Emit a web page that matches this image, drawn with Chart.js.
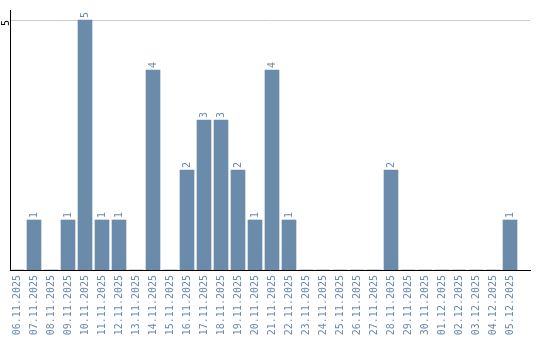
<!DOCTYPE html>
<html>
<head>
<meta charset="utf-8">
<script src="https://cdn.jsdelivr.net/npm/chart.js@4/dist/chart.umd.min.js"></script>
<style>
html,body{margin:0;padding:0;background:#fff;}
canvas{display:block;}
</style>
</head>
<body>
<canvas id="c" width="540" height="340"></canvas>
<script>
const categories = ["06.11.2025","07.11.2025","08.11.2025","09.11.2025","10.11.2025","11.11.2025","12.11.2025","13.11.2025","14.11.2025","15.11.2025","16.11.2025","17.11.2025","18.11.2025","19.11.2025","20.11.2025","21.11.2025","22.11.2025","23.11.2025","24.11.2025","25.11.2025","26.11.2025","27.11.2025","28.11.2025","29.11.2025","30.11.2025","01.12.2025","02.12.2025","03.12.2025","04.12.2025","05.12.2025"];
const counts = [0,1,0,1,5,1,1,0,4,0,2,3,3,2,1,4,1,0,0,0,0,0,2,0,0,0,0,0,0,1];
const yTickValues = [5];

const BAR = '#6b8baa';
const LABEL = '#6a8aad';
const FONT = '"DejaVu Sans Mono", "Liberation Mono", monospace';

const valueLabels = {
  id: 'valueLabels',
  afterDatasetsDraw(chart) {
    const ctx = chart.ctx;
    const meta = chart.getDatasetMeta(0);
    ctx.save();
    ctx.font = '10px ' + FONT;
    ctx.fillStyle = LABEL;
    ctx.textAlign = 'left';
    ctx.textBaseline = 'middle';
    meta.data.forEach((el, i) => {
      const v = counts[i];
      if (!v) return;
      ctx.save();
      ctx.translate(el.x, el.y - 2);
      ctx.rotate(-Math.PI / 2);
      ctx.fillText(String(v), 0, 0);
      ctx.restore();
    });
    ctx.restore();
  }
};

new Chart(document.getElementById('c'), {
  type: 'bar',
  data: {
    datasets: [{
      data: counts.map((v, i) => ({x: i, y: v})),
      backgroundColor: BAR,
      borderWidth: 0,
      barThickness: 14
    }]
  },
  options: {
    responsive: false,
    animation: false,
    devicePixelRatio: 1,
    layout: {padding: {top: 10, right: 10, left: 0, bottom: 0}},
    plugins: {legend: {display: false}, tooltip: {enabled: false}},
    scales: {
      x: {
        type: 'linear',
        offset: false,
        min: -7 / 17,
        max: 29 + 20 / 17,
        afterBuildTicks: s => { s.ticks = categories.map((_, i) => ({value: i})); },
        afterFit: s => { s.height = 70; },
        grid: {display: false, drawTicks: false, offset: false},
        border: {display: true, color: '#000', width: 1},
        ticks: {
          autoSkip: false,
          minRotation: 90,
          maxRotation: 90,
          padding: 5,
          color: LABEL,
          font: {family: FONT, size: 10},
          callback: v => categories[v] !== undefined ? categories[v] : ''
        }
      },
      y: {
        min: 0,
        max: 5.2,
        afterBuildTicks: s => { s.ticks = yTickValues.map(v => ({value: v})); },
        afterFit: s => { s.width = 10; },
        grid: {display: true, color: '#cccccc', drawTicks: false},
        border: {display: true, color: '#000', width: 1},
        ticks: {
          minRotation: 90,
          maxRotation: 90,
          padding: 4,
          color: '#000',
          font: {family: FONT, size: 10}
        }
      }
    }
  },
  plugins: [valueLabels]
});
</script>
</body>
</html>
